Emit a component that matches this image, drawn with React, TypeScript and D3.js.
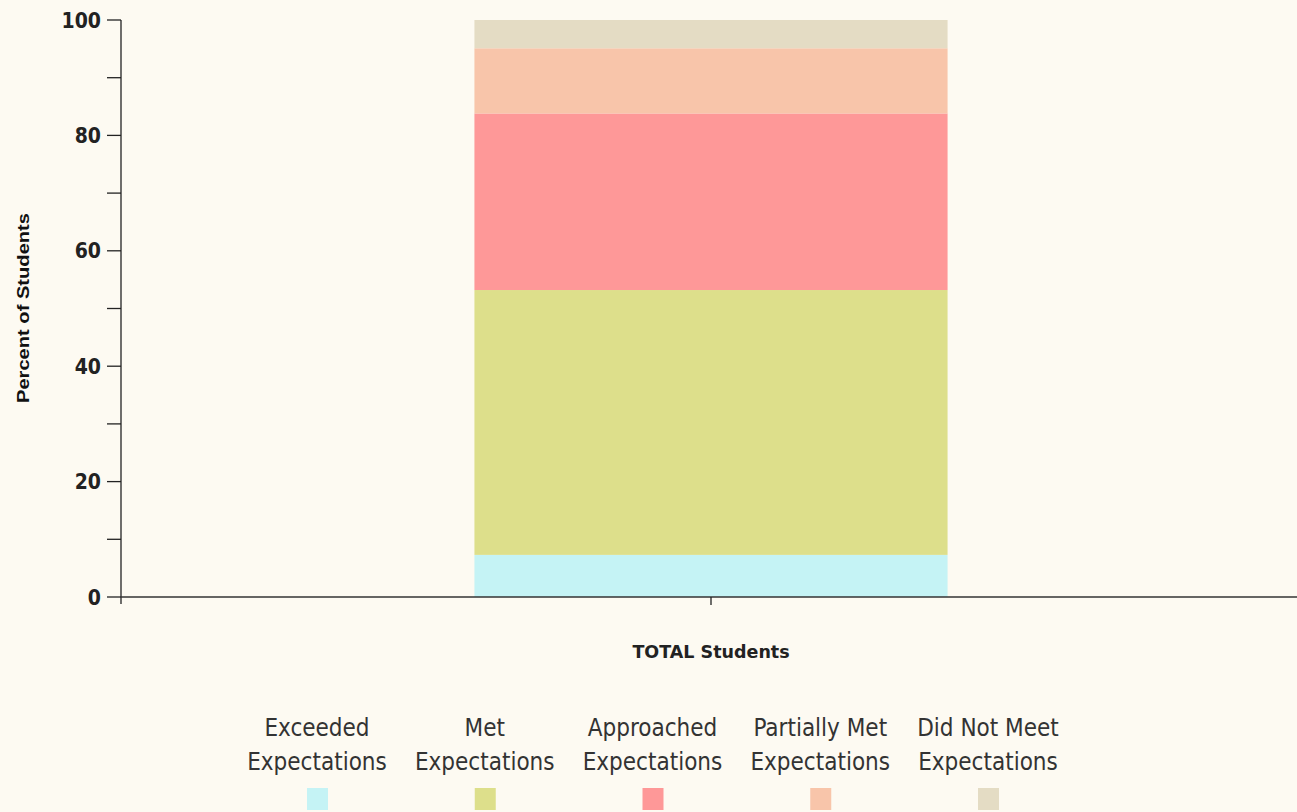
import React from "react";
import * as d3 from "d3";

const categories = ["TOTAL Students"];
const seriesNames = [
  ["Exceeded", "Expectations"],
  ["Met", "Expectations"],
  ["Approached", "Expectations"],
  ["Partially Met", "Expectations"],
  ["Did Not Meet", "Expectations"],
];
const seriesKeys = ["exceeded", "met", "approached", "partially", "didNotMeet"];
const exceeded = [7.3];
const met = [45.9];
const approached = [30.6];
const partially = [11.3];
const didNotMeet = [4.9];
const colors = ["#C5F3F5", "#DDDF8B", "#FE9898", "#F8C5AA", "#E4DCC4"];
const yTicks = [0, 10, 20, 30, 40, 50, 60, 70, 80, 90, 100];

const W = 1297;
const H = 812;
const left = 121;
const right = 1297;
const top = 20;
const bottom = 597;

export default function App() {
  const rows = categories.map((c, i) => ({
    cat: c,
    exceeded: exceeded[i],
    met: met[i],
    approached: approached[i],
    partially: partially[i],
    didNotMeet: didNotMeet[i],
  }));
  const stack = d3.stack<any>().keys(seriesKeys)(rows);
  const y = d3.scaleLinear().domain([0, 100]).range([bottom, top]);
  const x = d3
    .scaleBand()
    .domain(categories)
    .range([left, left + 2 * (711 - left)])
    .paddingInner(0)
    .paddingOuter(0.747);
  const font = "'DejaVu Sans', Verdana, sans-serif";
  const condensed = "'DejaVu Sans Condensed', 'DejaVu Sans', sans-serif";
  const legendX = d3.scalePoint().domain(seriesKeys).range([317, 988]);

  return (
    <svg
      width={W}
      height={H}
      style={{ position: "absolute", left: 0, top: 0, background: "#FDFAF2" }}
    >
      <rect x={0} y={0} width={W} height={H} fill="#FDFAF2" />
      {stack.map((s, si) =>
        s.map((d, di) => (
          <rect
            key={si + "-" + di}
            x={x(rows[di].cat)!}
            width={x.bandwidth()}
            y={y(d[1])}
            height={y(d[0]) - y(d[1])}
            fill={colors[si]}
          />
        ))
      )}
      {/* y axis */}
      <line x1={left} x2={left} y1={top} y2={bottom + 7} stroke="#222" strokeWidth={1.3} />
      {yTicks.map((t) => (
        <g key={t}>
          <line x1={left - 14} x2={left} y1={y(t)} y2={y(t)} stroke="#222" strokeWidth={1.3} />
          {t % 20 === 0 && (
            <text
              x={left - 20}
              y={y(t)}
              dy="0.36em"
              textAnchor="end"
              fontFamily={condensed}
              fontWeight="bold"
              fontSize={21}
              fill="#222"
            >
              {t}
            </text>
          )}
        </g>
      ))}
      <text
        transform={`translate(29,308) rotate(-90)`}
        textAnchor="middle"
        fontFamily="'Liberation Sans Narrow', 'Liberation Sans', Arial, sans-serif"
        fontWeight="bold"
        fontSize={17}
        textLength={190}
        lengthAdjust="spacingAndGlyphs"
        fill="#111"
      >
        Percent of Students
      </text>
      {/* x axis */}
      <line x1={left} x2={right} y1={bottom} y2={bottom} stroke="#333" strokeWidth={1.6} />
      {categories.map((c) => (
        <g key={c}>
          <line
            x1={x(c)! + x.bandwidth() / 2}
            x2={x(c)! + x.bandwidth() / 2}
            y1={bottom}
            y2={bottom + 8}
            stroke="#222"
            strokeWidth={1.3}
          />
          <text
            x={x(c)! + x.bandwidth() / 2}
            y={658}
            textAnchor="middle"
            fontFamily={font}
            fontSize={17.5}
            fontWeight="bold"
            fill="#222"
          >
            {c}
          </text>
        </g>
      ))}
      {/* legend */}
      {seriesKeys.map((k, i) => (
        <g key={k}>
          <text
            x={legendX(k)!}
            y={736}
            textAnchor="middle"
            fontFamily={condensed}
            fontSize={24}
            fill="#333"
          >
            {seriesNames[i][0]}
          </text>
          <text
            x={legendX(k)!}
            y={770}
            textAnchor="middle"
            fontFamily={condensed}
            fontSize={24}
            fill="#333"
          >
            {seriesNames[i][1]}
          </text>
          <rect x={legendX(k)! - 10} y={788} width={21} height={22} fill={colors[i]} />
        </g>
      ))}
    </svg>
  );
}
